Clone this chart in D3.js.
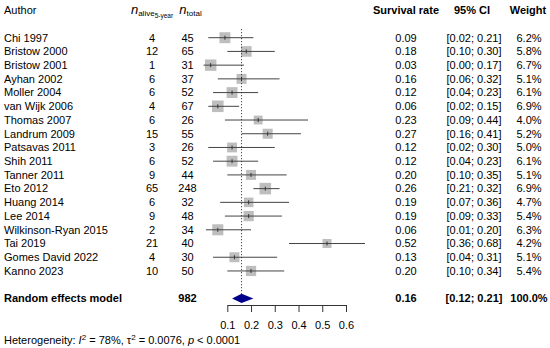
<!DOCTYPE html>
<html>
<head>
<meta charset="utf-8">
<script src="https://cdn.jsdelivr.net/npm/d3@7"></script>
<style>
  body { margin: 0; background: #fff; }
  text { font-family: "Liberation Sans", Arial, sans-serif; font-size: 11px; fill: #000; }
</style>
</head>
<body>
<svg id="forest" width="550" height="348"></svg>
<script>
// study data
var authors = ["Chi 1997", "Bristow 2000", "Bristow 2001", "Ayhan 2002", "Moller 2004",
  "van Wijk 2006", "Thomas 2007", "Landrum 2009", "Patsavas 2011", "Shih 2011",
  "Tanner 2011", "Eto 2012", "Huang 2014", "Lee 2014", "Wilkinson-Ryan 2015",
  "Tai 2019", "Gomes David 2022", "Kanno 2023"];
var nAlive = [4, 12, 1, 6, 6, 4, 6, 15, 3, 6, 9, 65, 6, 9, 2, 21, 4, 10];
var nTotal = [45, 65, 31, 37, 52, 67, 26, 55, 26, 52, 44, 248, 32, 48, 34, 40, 30, 50];
var rate   = [0.09, 0.18, 0.03, 0.16, 0.12, 0.06, 0.23, 0.27, 0.12, 0.12, 0.20, 0.26, 0.19, 0.19, 0.06, 0.52, 0.13, 0.20];
var lower  = [0.02, 0.10, 0.00, 0.06, 0.04, 0.02, 0.09, 0.16, 0.02, 0.04, 0.10, 0.21, 0.07, 0.09, 0.01, 0.36, 0.04, 0.10];
var upper  = [0.21, 0.30, 0.17, 0.32, 0.23, 0.15, 0.44, 0.41, 0.30, 0.23, 0.35, 0.32, 0.36, 0.33, 0.20, 0.68, 0.31, 0.34];
var weight = [6.2, 5.8, 6.7, 5.1, 6.1, 6.9, 4.0, 5.2, 5.0, 6.1, 5.1, 6.9, 4.7, 5.4, 6.3, 4.2, 5.1, 5.4];

var pooled = { label: "Random effects model", n: 982, est: 0.16, lo: 0.12, hi: 0.21, w: 100.0 };
var axisTicks = [0.1, 0.2, 0.3, 0.4, 0.5, 0.6];

var studies = authors.map(function(a, i) {
  return { author: a, alive: nAlive[i], total: nTotal[i], est: rate[i],
           lo: lower[i], hi: upper[i], w: weight[i], row: i };
});

var svg = d3.select("#forest");
var f2 = d3.format(".2f"), f1 = d3.format(".1f");

// rows: header at -2, studies 0..17, pooled at 19
var y = d3.scaleLinear().domain([0, 19]).range([37.7, 298.4]);
var x = d3.scaleLinear().domain([0.1, 0.6]).range([227.3, 346]);

var colN1 = 152, colN2 = 187.5, colRate = 406, colCI = 474, colW = 529;

// ---- header ----
var head = svg.append("g");
head.append("text").attr("x", 4).attr("y", y(-2)).attr("dy", "0.35em").text("Author");

var h1 = head.append("text").attr("x", colN1).attr("y", y(-2)).attr("dy", "0.35em").attr("text-anchor", "middle");
h1.append("tspan").attr("font-style", "italic").attr("font-size", "13px").text("n");
h1.append("tspan").attr("font-size", "8px").attr("dy", "2").text("alive");
h1.append("tspan").attr("font-size", "6.5px").attr("dy", "2").text("5-year");

var h2 = head.append("text").attr("x", colN2 + 3).attr("y", y(-2)).attr("dy", "0.35em").attr("text-anchor", "middle");
h2.append("tspan").attr("font-style", "italic").attr("font-size", "13px").text("n");
h2.append("tspan").attr("font-size", "8px").attr("dy", "2").text("total");

head.append("text").attr("x", colRate).attr("y", y(-2)).attr("dy", "0.35em")
  .attr("text-anchor", "middle").attr("font-weight", "bold").text("Survival rate");
head.append("text").attr("x", colCI - 2).attr("y", y(-2)).attr("dy", "0.35em")
  .attr("text-anchor", "middle").attr("font-weight", "bold").text("95% CI");
head.append("text").attr("x", colW - 1).attr("y", y(-2)).attr("dy", "0.35em")
  .attr("text-anchor", "middle").attr("font-weight", "bold").text("Weight");

// ---- study rows text ----
var rows = svg.selectAll("g.row")
  .data(studies)
  .enter()
  .append("g")
  .attr("class", "row")
  .attr("transform", function(d) { return "translate(0," + y(d.row) + ")"; });

rows.append("text").attr("x", 4).attr("dy", "0.35em").text(function(d) { return d.author; });
rows.append("text").attr("x", colN1).attr("dy", "0.35em").attr("text-anchor", "middle")
  .text(function(d) { return d.alive; });
rows.append("text").attr("x", colN2).attr("dy", "0.35em").attr("text-anchor", "middle")
  .text(function(d) { return d.total; });
rows.append("text").attr("x", colRate).attr("dy", "0.35em").attr("text-anchor", "middle")
  .text(function(d) { return f2(d.est); });
rows.append("text").attr("x", colCI).attr("dy", "0.35em").attr("text-anchor", "middle")
  .text(function(d) { return "[" + f2(d.lo) + "; " + f2(d.hi) + "]"; });
rows.append("text").attr("x", colW).attr("dy", "0.35em").attr("text-anchor", "middle")
  .text(function(d) { return f1(d.w) + "%"; });

// ---- reference line at pooled estimate ----
svg.append("line")
  .attr("x1", x(pooled.est)).attr("x2", x(pooled.est))
  .attr("y1", y(-0.62)).attr("y2", y(19) - 4.5)
  .attr("stroke", "#222").attr("stroke-width", 1).attr("stroke-dasharray", "1,2");

// ---- squares and whiskers ----
rows.append("rect")
  .attr("x", function(d) { return x(d.est) - 2.2 * Math.sqrt(d.w); })
  .attr("y", function(d) { return -2.2 * Math.sqrt(d.w); })
  .attr("width", function(d) { return 4.4 * Math.sqrt(d.w); })
  .attr("height", function(d) { return 4.4 * Math.sqrt(d.w); })
  .attr("fill", "#bebebe");

rows.append("line")
  .attr("x1", function(d) { return x(d.lo); })
  .attr("x2", function(d) { return x(d.hi); })
  .attr("y1", 0).attr("y2", 0)
  .attr("stroke", "#444").attr("stroke-width", 1);

rows.append("line")
  .attr("x1", function(d) { return x(d.est); })
  .attr("x2", function(d) { return x(d.est); })
  .attr("y1", -2).attr("y2", 2)
  .attr("stroke", "#333").attr("stroke-width", 1);

// ---- pooled row ----
var pr = svg.append("g").attr("transform", "translate(0," + y(19) + ")");
pr.append("text").attr("x", 4).attr("dy", "0.35em").attr("font-weight", "bold").text(pooled.label);
pr.append("text").attr("x", colN2).attr("dy", "0.35em").attr("text-anchor", "middle")
  .attr("font-weight", "bold").text(pooled.n);
pr.append("text").attr("x", colRate).attr("dy", "0.35em").attr("text-anchor", "middle")
  .attr("font-weight", "bold").text(f2(pooled.est));
pr.append("text").attr("x", colCI).attr("dy", "0.35em").attr("text-anchor", "middle")
  .attr("font-weight", "bold").text("[" + f2(pooled.lo) + "; " + f2(pooled.hi) + "]");
pr.append("text").attr("x", colW).attr("dy", "0.35em").attr("text-anchor", "middle")
  .attr("font-weight", "bold").text(f1(pooled.w) + "%");
pr.append("path")
  .attr("d", "M" + x(pooled.lo) + ",0L" + x(pooled.est) + ",-4.7L" + x(pooled.hi) + ",0L" + x(pooled.est) + ",4.7Z")
  .attr("fill", "#00008b");

// ---- axis ----
var ax = svg.append("g")
  .attr("transform", "translate(0,305)")
  .call(d3.axisBottom(x).tickValues(axisTicks).tickSize(7).tickSizeOuter(0)
    .tickPadding(9).tickFormat(d3.format(".1f")));
ax.selectAll("text").attr("font-family", "Liberation Sans, Arial, sans-serif").attr("font-size", "11px");
ax.selectAll("line, path").attr("stroke", "#333");

// ---- heterogeneity ----
var het = svg.append("text").attr("x", 4).attr("y", 344);
het.append("tspan").text("Heterogeneity: ");
het.append("tspan").attr("font-style", "italic").text("I");
het.append("tspan").attr("font-size", "8px").attr("dy", "-4").text("2");
het.append("tspan").attr("dy", "4").text(" = 78%, \u03c4");
het.append("tspan").attr("font-size", "8px").attr("dy", "-4").text("2");
het.append("tspan").attr("dy", "4").text(" = 0.0076, ");
het.append("tspan").attr("font-style", "italic").text("p");
het.append("tspan").text(" < 0.0001");
</script>
</body>
</html>
